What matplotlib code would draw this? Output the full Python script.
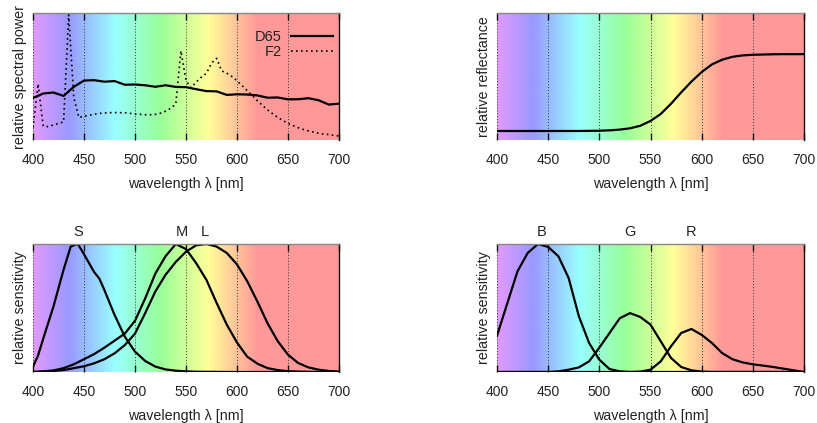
import numpy as np
import matplotlib.pyplot as plt
from matplotlib.colors import LinearSegmentedColormap
from matplotlib.transforms import blended_transform_factory

plt.rcParams['font.family'] = ['Liberation Sans', 'DejaVu Sans']
plt.rcParams['font.size'] = 10
plt.rcParams['text.color'] = '#222222'
plt.rcParams['axes.labelcolor'] = '#222222'
plt.rcParams['xtick.color'] = '#222222'

# Dados (valores relativos, 0..1)
lam10 = list(range(400, 701, 10))
lam5 = list(range(400, 701, 5))

d65 = [0.331, 0.366, 0.374, 0.347, 0.419, 0.468, 0.471, 0.459, 0.464, 0.435,
       0.437, 0.431, 0.419, 0.431, 0.418, 0.416, 0.400, 0.385, 0.383, 0.355,
       0.360, 0.358, 0.351, 0.333, 0.335, 0.320, 0.321, 0.329, 0.313, 0.279, 0.286]

f2 = [0.097, 0.442, 0.109, 0.105, 0.118, 0.130, 0.143, 0.986, 0.333, 0.177,
      0.187, 0.195, 0.203, 0.209, 0.213, 0.215, 0.216, 0.215, 0.215, 0.210,
      0.205, 0.202, 0.199, 0.199, 0.202, 0.211, 0.227, 0.250, 0.282, 0.702,
      0.469, 0.411, 0.456, 0.495, 0.525, 0.605, 0.643, 0.544, 0.526, 0.500,
      0.466, 0.429, 0.389, 0.349, 0.309, 0.272, 0.237, 0.206, 0.178, 0.153,
      0.132, 0.113, 0.097, 0.083, 0.072, 0.062, 0.053, 0.046, 0.043, 0.036, 0.031]

reflectancia = [0.071, 0.071, 0.071, 0.071, 0.071, 0.071, 0.071, 0.071, 0.071, 0.072,
                0.073, 0.076, 0.082, 0.092, 0.112, 0.150, 0.205, 0.285, 0.375, 0.460,
                0.535, 0.595, 0.632, 0.655, 0.666, 0.671, 0.673, 0.675, 0.676, 0.676, 0.676]

lam_s = [400, 405, 410, 420, 430, 437, 440, 444, 450, 460, 465, 470, 480, 490,
         500, 510, 520, 530, 540, 550, 560, 580, 600, 700]
cone_s = [0.042, 0.13, 0.26, 0.51, 0.80, 0.98, 0.99, 1.0, 0.92, 0.78, 0.73, 0.64,
          0.445, 0.276, 0.159, 0.086, 0.042, 0.02, 0.01, 0.005, 0.002, 0.001, 0.0, 0.0]
cone_m = [0.0, 0.005, 0.012, 0.03, 0.06, 0.10, 0.14, 0.19, 0.245, 0.30,
          0.40, 0.575, 0.77, 0.905, 1.0, 0.96, 0.85, 0.72, 0.54, 0.37,
          0.23, 0.12, 0.065, 0.03, 0.015, 0.006, 0.003, 0.001, 0.0, 0.0, 0.0]
cone_l = [0.0, 0.003, 0.008, 0.015, 0.03, 0.045, 0.068, 0.10, 0.146, 0.21,
          0.30, 0.46, 0.63, 0.76, 0.86, 0.94, 0.99, 1.0, 0.98, 0.93,
          0.84, 0.71, 0.55, 0.38, 0.24, 0.135, 0.07, 0.036, 0.018, 0.008, 0.003]

sens_b = [0.284, 0.535, 0.786, 0.93, 1.0, 0.977, 0.904, 0.734, 0.435, 0.227,
          0.096, 0.023, 0.005, 0, 0, 0, 0, 0, 0, 0, 0, 0, 0, 0, 0, 0, 0, 0, 0, 0, 0]
sens_g = [0, 0, 0, 0, 0, 0, 0.005, 0.018, 0.036, 0.083,
          0.19, 0.305, 0.42, 0.46, 0.43, 0.37, 0.24, 0.11, 0.039, 0.013,
          0.003, 0, 0, 0, 0, 0, 0, 0, 0, 0, 0]
sens_r = [0, 0, 0, 0, 0, 0, 0, 0, 0, 0, 0, 0, 0, 0, 0.003, 0.018, 0.083, 0.2,
          0.305, 0.336, 0.29, 0.227, 0.148, 0.10, 0.075, 0.06, 0.05, 0.039, 0.026, 0.013, 0.0]

rotulos_cones = ['S', 'M', 'L']
pos_cones = [444.7, 545.8, 568.6]
rotulos_camera = ['B', 'G', 'R']
pos_camera = [444.0, 530.0, 589.7]

ticks = [400, 450, 500, 550, 600, 650, 700]

# Fundo com as cores do espectro
paradas = [(0.0, (0.89, 0.60, 1.0)), (35 / 300, (0.60, 0.60, 1.0)),
           (80 / 300, (0.60, 1.0, 1.0)), (125 / 300, (0.60, 1.0, 0.60)),
           (172 / 300, (1.0, 1.0, 0.60)), (220 / 300, (1.0, 0.60, 0.60)),
           (1.0, (1.0, 0.60, 0.60))]
espectro = LinearSegmentedColormap.from_list('espectro', paradas)
gradiente = np.linspace(0, 1, 600)[None, :]


def preparar(ax, ylabel):
    ax.imshow(gradiente, extent=[400, 700, 0, 1], aspect='auto', cmap=espectro,
              origin='lower', zorder=0, interpolation='bilinear')
    ax.set_xlim(400, 700)
    ax.set_ylim(0, 1)
    ax.set_xticks(ticks)
    ax.set_yticks([])
    ax.tick_params(axis='x', direction='in', top=True, length=5, width=1,
                   pad=9.5, labelsize=10, color='#111111')
    ax.grid(axis='x', linestyle=(0, (1, 2)), color='#333333', lw=0.7)
    ax.spines['bottom'].set_visible(False)
    ax.spines['left'].set_visible(False)
    ax.spines['top'].set_color('#888888')
    ax.spines['top'].set_linewidth(1)
    ax.spines['right'].set_color('#111111')
    ax.spines['right'].set_linewidth(1)
    ax.set_xlabel('wavelength λ [nm]', labelpad=7, fontsize=10.3)
    ax.set_ylabel(ylabel, labelpad=4, fontsize=10.3)


fig = plt.figure(figsize=(8.17, 4.23), dpi=100)
ax1 = fig.add_axes([33 / 817, 1 - 140 / 423, 306 / 817, 127 / 423])
ax2 = fig.add_axes([497 / 817, 1 - 140 / 423, 307 / 817, 127 / 423])
ax3 = fig.add_axes([33 / 817, 1 - 372 / 423, 306 / 817, 128 / 423])
ax4 = fig.add_axes([497 / 817, 1 - 372 / 423, 307 / 817, 128 / 423])

preparar(ax1, 'relative spectral power')
ax1.plot(lam10, d65, color='black', lw=1.6, label='D65')
ax1.plot(lam5, f2, color='black', lw=1.2, linestyle=(0, (1, 2)), label='F2')
ax1.legend(loc='upper right', bbox_to_anchor=(1.026, 0.976), frameon=False,
           markerfirst=False, handlelength=2.9, labelspacing=0.1, borderaxespad=0.2,
           borderpad=0.75, fontsize=10.5, handletextpad=0.6)

preparar(ax2, 'relative reflectance')
ax2.plot(lam10, reflectancia, color='black', lw=1.6)

preparar(ax3, 'relative sensitivity')
ax3.plot(lam_s, cone_s, color='black', lw=1.6)
ax3.plot(lam10, cone_m, color='black', lw=1.6)
ax3.plot(lam10, cone_l, color='black', lw=1.6)
trans3 = blended_transform_factory(ax3.transData, ax3.transAxes)
for rot, pos in zip(rotulos_cones, pos_cones):
    ax3.text(pos, 1.094, rot, transform=trans3, ha='center', va='center', fontsize=10.5)

preparar(ax4, 'relative sensitivity')
ax4.plot(lam10, sens_b, color='black', lw=1.6)
ax4.plot(lam10, sens_g, color='black', lw=1.6)
ax4.plot(lam10, sens_r, color='black', lw=1.6)
trans4 = blended_transform_factory(ax4.transData, ax4.transAxes)
for rot, pos in zip(rotulos_camera, pos_camera):
    ax4.text(pos, 1.094, rot, transform=trans4, ha='center', va='center', fontsize=10.5)

plt.savefig('out.png', dpi=100)
